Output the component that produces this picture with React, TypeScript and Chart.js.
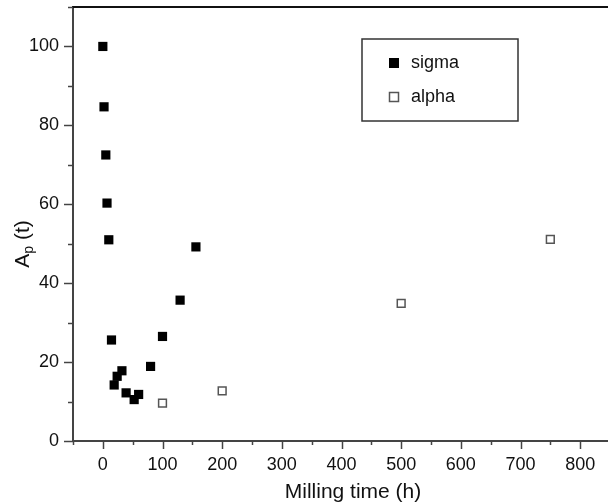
import React, { useEffect, useRef } from "react";
import { Chart, registerables } from "chart.js";

Chart.register(...registerables);

const sigmaX = [0, 2, 5, 7, 10, 14.5, 19, 24, 32, 39, 52.5, 60, 80, 100, 129.5, 156];
const sigmaY = [100, 84.7, 72.5, 60.3, 51, 25.6, 14.2, 16.4, 17.8, 12.2, 10.5, 11.8, 18.9, 26.5, 35.7, 49.2];
const alphaX = [100, 200, 500, 750];
const alphaY = [9.6, 12.7, 34.9, 51.1];
const seriesNames = ["sigma", "alpha"];
const xTitle = "Milling time (h)";
const yTitleMain = "A";
const yTitleSub = "p";
const yTitleRest = " (t)";
const xMin = -50, xMax = 850, xStep = 50, xLabelStep = 100;
const yMin = 0, yMax = 110, yStep = 10, yLabelStep = 20;

const FONT = "'Liberation Sans', Arial, sans-serif";

const decorPlugin = {
  id: "decor",
  afterDraw(chart: any) {
    const ctx = chart.ctx as CanvasRenderingContext2D;
    const area = chart.chartArea;
    const xs = chart.scales.x;
    const ys = chart.scales.y;
    ctx.save();
    // top frame line
    ctx.strokeStyle = "#111";
    ctx.lineWidth = 2;
    ctx.beginPath();
    ctx.moveTo(area.left - 1, area.top);
    ctx.lineTo(area.right + 2, area.top);
    ctx.stroke();
    // ticks
    ctx.strokeStyle = "#444";
    ctx.lineWidth = 1.5;
    for (let v = xMin; v <= xMax; v += xStep) {
      const px = Math.round(xs.getPixelForValue(v)) + 0.5;
      const len = v % xLabelStep === 0 ? 8 : 4;
      ctx.beginPath();
      ctx.moveTo(px, area.bottom);
      ctx.lineTo(px, area.bottom + len);
      ctx.stroke();
    }
    for (let v = yMin; v <= yMax; v += yStep) {
      const py = Math.round(ys.getPixelForValue(v)) + 0.5;
      const len = v % yLabelStep === 0 ? 9 : 5;
      ctx.beginPath();
      ctx.moveTo(area.left, py);
      ctx.lineTo(area.left - len, py);
      ctx.stroke();
    }
    // x title
    ctx.fillStyle = "#111";
    ctx.font = `21px ${FONT}`;
    ctx.textAlign = "center";
    ctx.textBaseline = "middle";
    ctx.fillText(xTitle, area.left + 280, area.bottom + 51);
    // y title (rotated)
    ctx.save();
    ctx.translate(22, area.top + 237);
    ctx.rotate(-Math.PI / 2);
    ctx.textBaseline = "alphabetic";
    ctx.textAlign = "left";
    ctx.font = `21px ${FONT}`;
    const wA = ctx.measureText(yTitleMain).width;
    ctx.font = `14px ${FONT}`;
    const wP = ctx.measureText(yTitleSub).width;
    ctx.font = `21px ${FONT}`;
    const wR = ctx.measureText(yTitleRest).width;
    const total = wA + wP + wR;
    let cx = -total / 2;
    const base = 7;
    ctx.fillText(yTitleMain, cx, base);
    cx += wA;
    ctx.font = `14px ${FONT}`;
    ctx.fillText(yTitleSub, cx, base + 4);
    cx += wP;
    ctx.font = `21px ${FONT}`;
    ctx.fillText(yTitleRest, cx, base);
    ctx.restore();
    // legend
    const lx = area.left + 289;
    const ly = area.top + 32;
    ctx.strokeStyle = "#333";
    ctx.lineWidth = 1.5;
    ctx.strokeRect(lx, ly, 156, 82);
    ctx.fillStyle = "#000";
    ctx.fillRect(lx + 27, ly + 19, 10, 10);
    ctx.strokeStyle = "#555";
    ctx.lineWidth = 1.5;
    ctx.strokeRect(lx + 27.5, ly + 53.5, 9, 9);
    ctx.fillStyle = "#111";
    ctx.font = `18px ${FONT}`;
    ctx.textAlign = "left";
    ctx.textBaseline = "middle";
    ctx.fillText(seriesNames[0], lx + 49, ly + 24);
    ctx.fillText(seriesNames[1], lx + 49, ly + 58);
    ctx.restore();
  },
};

export default function App() {
  const ref = useRef<HTMLCanvasElement>(null);
  useEffect(() => {
    if (!ref.current) return;
    const chart = new Chart(ref.current, {
      type: "scatter",
      data: {
        datasets: [
          {
            label: seriesNames[0],
            data: sigmaX.map((x, i) => ({ x, y: sigmaY[i] })),
            pointStyle: "rect",
            pointRadius: 6.5,
            backgroundColor: "#000",
            borderWidth: 0,
          },
          {
            label: seriesNames[1],
            data: alphaX.map((x, i) => ({ x, y: alphaY[i] })),
            pointStyle: "rect",
            pointRadius: 5.5,
            backgroundColor: "#fff",
            borderColor: "#555",
            borderWidth: 1.5,
          },
        ],
      },
      options: {
        responsive: false,
        animation: false,
        layout: { padding: { top: 7, right: 0, left: 0, bottom: 0 } },
        plugins: { legend: { display: false }, tooltip: { enabled: false } },
        scales: {
          x: {
            type: "linear",
            min: xMin,
            max: xMax,
            grid: { display: false, drawTicks: false },
            border: { display: true, color: "#444", width: 2 },
            ticks: {
              stepSize: xStep,
              autoSkip: false,
              maxRotation: 0,
              padding: 13,
              color: "#111",
              font: { family: FONT, size: 18 },
              callback: (v: any) => (v >= 0 && v % xLabelStep === 0 ? String(v) : ""),
            },
            afterFit: (s: any) => {
              s.height = 63;
              s.paddingLeft = 0;
              s.paddingRight = 0;
            },
          },
          y: {
            type: "linear",
            min: yMin,
            max: yMax,
            grid: { display: false, drawTicks: false },
            border: { display: true, color: "#444", width: 2 },
            ticks: {
              stepSize: yStep,
              autoSkip: false,
              padding: 14,
              color: "#111",
              font: { family: FONT, size: 18 },
              callback: (v: any) => (v % yLabelStep === 0 ? String(v) : ""),
            },
            afterFit: (s: any) => {
              s.width = 73;
              s.paddingTop = 0;
              s.paddingBottom = 0;
            },
          },
        },
      },
      plugins: [decorPlugin],
    });
    return () => chart.destroy();
  }, []);
  return (
    <div style={{ position: "fixed", left: 0, top: 0, width: 608, height: 504, overflow: "hidden", background: "#fff" }}>
      <canvas ref={ref} width={617} height={504} style={{ width: 617, height: 504, display: "block" }} />
    </div>
  );
}
